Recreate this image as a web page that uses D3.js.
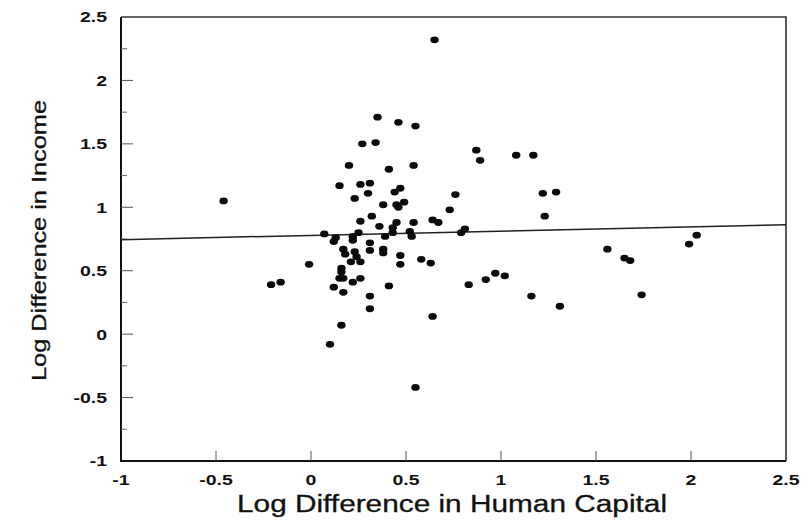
<!DOCTYPE html>
<html>
<head>
  <meta charset="utf-8">
  <title>Log Difference in Income vs Human Capital</title>
  <style>
    body { margin: 0; background: #fff; }
    text { font-family: "Liberation Sans", Arial, Helvetica, sans-serif; fill: #111; }
    .tick_label { font-size: 15px; font-weight: bold; }
    .axis_title { font-size: 23px; stroke: #111; stroke-width: 0.3px; }
    .dot { fill: #0a0a0a; }
  </style>
</head>
<body>
  <svg id="canvas"></svg>
  <script src="https://d3js.org/d3.v7.min.js"></script>
  <script>
    // values
    const human_capital = [
      0.65, 0.35, 0.46, 0.55, 0.27, 0.34, 0.20, 0.41, 0.54, 0.15,
      0.26, 0.31, 0.30, 0.23, -0.46, 0.44, 0.47, 0.38, 0.45, 0.46,
      0.49, 0.73, 0.76, 0.32, 0.26, 0.36, 0.45, 0.54, 0.64, 0.67,
      0.43, 0.07, 0.13, 0.12, 0.22, 0.22, 0.25, 0.31, 0.39, 0.43,
      0.52, 0.53, 0.79, 0.81, 0.17, 0.18, 0.23, 0.24, 0.31, 0.38,
      0.38, 0.21, 0.26, 0.47, 0.47, 0.58, 0.63, -0.01, 0.16, 0.16,
      0.15, 0.17, 0.22, 0.26, -0.21, -0.16, 0.12, 0.17, 0.41, 0.31,
      0.31, 0.64, 0.16, 0.10, 0.55, 0.87, 0.89, 1.08, 1.17, 1.22,
      1.29, 1.23, 0.97, 1.02, 0.92, 0.83, 1.16, 1.31, 1.56, 1.65,
      1.68, 1.74, 1.99, 2.03
    ];
    const income = [
      2.32, 1.71, 1.67, 1.64, 1.50, 1.51, 1.33, 1.30, 1.33, 1.17,
      1.18, 1.19, 1.11, 1.07, 1.05, 1.12, 1.15, 1.02, 1.02, 1.00,
      1.04, 0.98, 1.10, 0.93, 0.89, 0.85, 0.88, 0.88, 0.90, 0.88,
      0.84, 0.79, 0.76, 0.73, 0.77, 0.74, 0.80, 0.72, 0.77, 0.80,
      0.81, 0.77, 0.80, 0.83, 0.67, 0.63, 0.65, 0.61, 0.66, 0.67,
      0.64, 0.57, 0.57, 0.62, 0.55, 0.59, 0.56, 0.55, 0.52, 0.49,
      0.44, 0.44, 0.41, 0.44, 0.39, 0.41, 0.37, 0.33, 0.38, 0.30,
      0.20, 0.14, 0.07, -0.08, -0.42, 1.45, 1.37, 1.41, 1.41, 1.11,
      1.12, 0.93, 0.48, 0.46, 0.43, 0.39, 0.30, 0.22, 0.67, 0.60,
      0.58, 0.31, 0.71, 0.78
    ];

    const fit_x = [-1, 2.5];
    const fit_y = [0.745, 0.863];

    const x_ticks = [-1, -0.5, 0, 0.5, 1, 1.5, 2, 2.5];
    const x_tick_labels = ["-1", "-0.5", "0", "0.5", "1", "1.5", "2", "2.5"];
    const y_ticks = [-1, -0.5, 0, 0.5, 1, 1.5, 2, 2.5];
    const y_tick_labels = ["-1", "-0.5", "0", "0.5", "1", "1.5", "2", "2.5"];
    const y_minor = [-0.75, -0.25, 0.25, 0.75, 1.25, 1.75, 2.25];

    const dims = { 'width': 806, 'height': 525, 'left': 121, 'right': 786, 'top': 17, 'bottom': 461,
      'major': 12, 'minor': 6, 'x_major': 10, 'stretch': 1.3 };

    const points = human_capital.map((h, i) => ({ 'x': h, 'y': income[i] }));

    const x = d3.scaleLinear().domain([-1, 2.5]).range([dims.left, dims.right]);
    const y = d3.scaleLinear().domain([-1, 2.5]).range([dims.bottom, dims.top]);

    const svg = d3.select("svg#canvas")
      .attr("width", dims.width)
      .attr("height", dims.height);

    // frame
    svg.append("path")
      .attr("d", "M" + dims.left + "," + dims.top + "H" + dims.right + "V" + dims.bottom)
      .attr("fill", "none")
      .attr("stroke", "#333")
      .attr("stroke-width", 1.6);
    svg.append("path")
      .attr("d", "M" + dims.left + "," + dims.top + "V" + dims.bottom + "H" + dims.right)
      .attr("fill", "none")
      .attr("stroke", "#111")
      .attr("stroke-width", 2);

    // ticks, pointing inside
    svg.selectAll(".ytick")
      .data(y_ticks.slice(1, -1))
      .enter().append("line")
      .attr("class", "ytick")
      .attr("x1", dims.left).attr("x2", dims.left + dims.major)
      .attr("y1", d => y(d)).attr("y2", d => y(d))
      .attr("stroke", "#555").attr("stroke-width", 1);

    svg.selectAll(".ytick_minor")
      .data(y_minor)
      .enter().append("line")
      .attr("class", "ytick_minor")
      .attr("x1", dims.left).attr("x2", dims.left + dims.minor)
      .attr("y1", d => y(d)).attr("y2", d => y(d))
      .attr("stroke", "#666").attr("stroke-width", 1);

    svg.selectAll(".xtick")
      .data(x_ticks.slice(1, -1))
      .enter().append("line")
      .attr("class", "xtick")
      .attr("x1", d => x(d)).attr("x2", d => x(d))
      .attr("y1", dims.bottom).attr("y2", dims.bottom - dims.x_major)
      .attr("stroke", "#555").attr("stroke-width", 1);

    // tick labels (the scan is stretched sideways, so are the glyphs)
    svg.selectAll(".xlab")
      .data(x_ticks)
      .enter().append("text")
      .attr("class", "tick_label xlab")
      .attr("text-anchor", "middle")
      .attr("transform", d => "translate(" + x(d) + "," + (dims.bottom + 24) + ")scale(" + dims.stretch + ",1)")
      .text((_, i) => x_tick_labels[i]);

    svg.selectAll(".ylab")
      .data(y_ticks)
      .enter().append("text")
      .attr("class", "tick_label ylab")
      .attr("text-anchor", "end")
      .attr("dy", "0.36em")
      .attr("transform", d => "translate(" + (dims.left - 14) + "," + y(d) + ")scale(" + dims.stretch + ",1)")
      .text((_, i) => y_tick_labels[i]);

    // fitted line
    svg.append("line")
      .attr("x1", x(fit_x[0])).attr("y1", y(fit_y[0]))
      .attr("x2", x(fit_x[1])).attr("y2", y(fit_y[1]))
      .attr("stroke", "#222")
      .attr("stroke-width", 1.5);

    svg.selectAll(".dot")
      .data(points)
      .enter().append("ellipse")
      .attr("class", "dot")
      .attr("cx", p => x(p.x))
      .attr("cy", p => y(p.y))
      .attr("rx", 4.2)
      .attr("ry", 3.4);

    // axis titles
    svg.append("text")
      .attr("class", "axis_title")
      .attr("x", 237)
      .attr("y", 512)
      .attr("textLength", 430)
      .attr("lengthAdjust", "spacingAndGlyphs")
      .text("Log Difference in Human Capital");

    svg.append("text")
      .attr("class", "axis_title")
      .attr("transform", "translate(46,381)rotate(-90)")
      .style("font-size", "20px")
      .attr("textLength", 281)
      .attr("lengthAdjust", "spacingAndGlyphs")
      .text("Log Difference in Income");
  </script>
</body>
</html>
